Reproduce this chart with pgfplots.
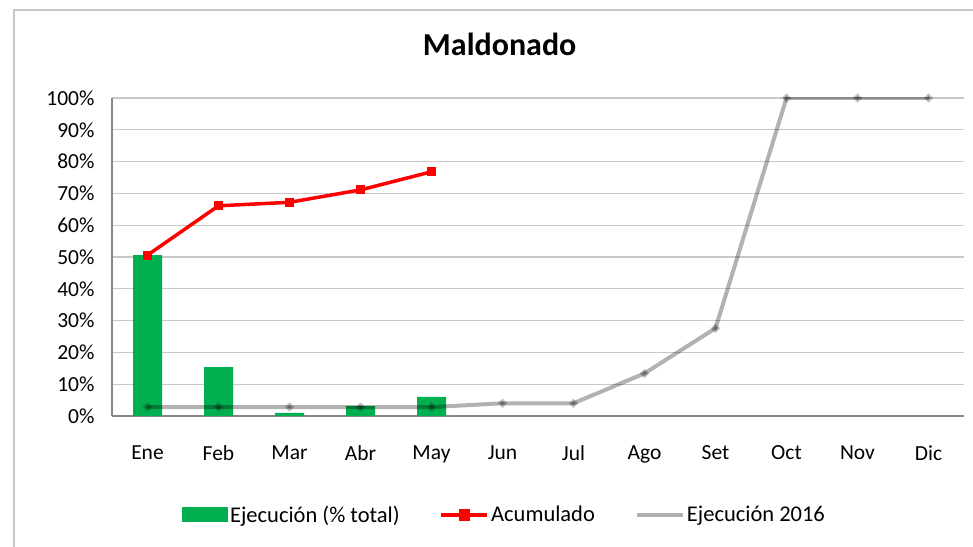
\documentclass[border=0pt]{standalone}
\usepackage{pgfplots}
\pgfplotsset{compat=1.18}
\usepackage{fontspec}
\setmainfont{Carlito}
\definecolor{exgreen}{RGB}{0,176,80}
\definecolor{gridgray}{RGB}{200,200,200}
\definecolor{axgray}{RGB}{134,134,134}
\begin{document}
\begin{tikzpicture}[x=1pt,y=1pt]
\useasboundingbox (0,0) rectangle (973,546);
\draw[gridgray, line width=2pt] (14,-10) -- (14,536) -- (990,536);
\begin{axis}[
  at={(112pt,130pt)}, anchor=south west,
  scale only axis, width=852pt, height=318pt,
  xmin=-0.5, xmax=11.5, ymin=0, ymax=100,
  xtick={0,...,11},
  xticklabels={Ene,Feb,Mar,Abr,May,Jun,Jul,Ago,Set,Oct,Nov,Dic},
  ytick={0,10,...,100},
  yticklabel={\pgfmathprintnumber{\tick}\%},
  /pgf/number format/assume math mode=true,
  major tick length=0pt,
  ymajorgrids, grid style={gridgray, line width=1.3pt},
  axis x line*=bottom, axis y line*=left,
  x axis line style={axgray, line width=1.3pt, -},
  y axis line style={axgray, line width=1.3pt, -},
  tick label style={font=\fontsize{21.5}{24}\selectfont, text=black},
  xticklabel style={yshift=-26pt},
  yticklabel style={xshift=-14pt},
  title={\textbf{Maldonado}},
  title style={at={(0.455,1.151)}, anchor=center, font=\fontsize{32}{36}\selectfont},
  legend columns=3,
  legend style={at={(0.4607,-0.311)}, anchor=center, draw=none, fill=none,
    font=\fontsize{22.5}{26}\selectfont,
    /tikz/every even column/.append style={column sep=38pt}},
  legend cell align=left,
]
\addplot[ybar, bar width=29pt, fill=exgreen, draw=none, bar shift=0pt,
  legend image code/.code={\fill[exgreen] (0pt,-7.5pt) rectangle (46pt,7.5pt);}]
  coordinates {(0,50.6) (1,15.4) (2,1.0) (3,3.1) (4,6.0)};
\addlegendentry{Ejecución (\% total)}
\addplot[red, line width=3.5pt, mark=square*, mark size=4pt, mark options={solid, fill=red, draw=red, line width=0pt},
  legend image code/.code={\draw[red, line width=3.5pt] (0pt,0pt) -- (46pt,0pt); \fill[red] (19pt,-4pt) rectangle (27pt,4pt);}]
  coordinates {(0,50.6) (1,66.1) (2,67.2) (3,71.1) (4,76.8)};
\addlegendentry{Acumulado}
\addplot[black, opacity=0.3, line width=4pt, mark=*, mark size=1.8pt, mark options={fill=black, draw=none, opacity=0.25},
  legend image code/.code={\draw[black, opacity=0.3, line width=4pt] (0pt,0pt) -- (46pt,0pt);}]
  coordinates {(0,2.8) (1,2.8) (2,2.8) (3,2.8) (4,2.8) (5,4) (6,4) (7,13.4) (8,27.6) (9,100) (10,100) (11,100)};
\addlegendentry{Ejecución 2016}
\end{axis}
\end{tikzpicture}
\end{document}
